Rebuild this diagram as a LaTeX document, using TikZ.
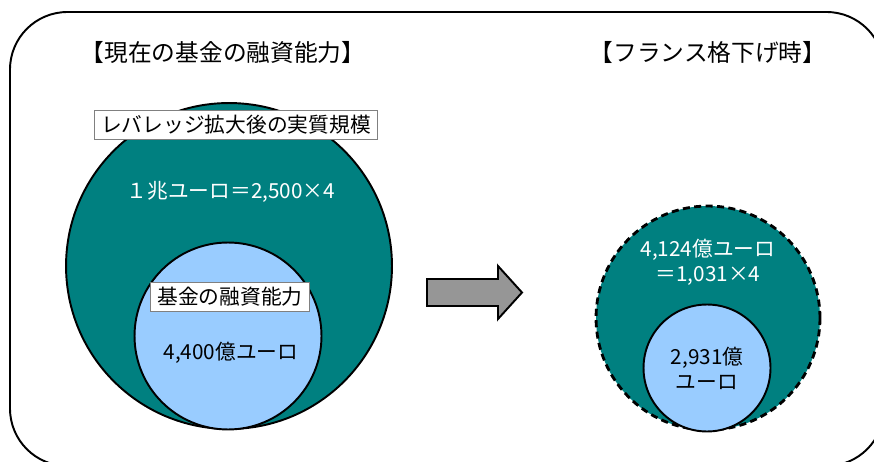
\documentclass[tikz,border=0pt]{standalone}
\usepackage{fontspec}
\setmainfont{Noto Sans CJK JP}
\usetikzlibrary{positioning}
\definecolor{fundteal}{HTML}{008080}
\definecolor{fundblue}{HTML}{99CCFF}
\definecolor{arrowgray}{HTML}{969696}

\begin{document}
\begin{tikzpicture}[x=0.02cm, y=-0.02cm,
    disc/.style={circle, draw, line width=1.1pt, inner sep=0pt},
    outerdisc/.style={disc, fill=fundteal},
    innerdisc/.style={disc, fill=fundblue},
    tagbox/.style={draw=gray, line width=0.8pt, fill=white, inner xsep=4pt, inner ysep=1pt, minimum height=0.58cm, font=\fontsize{11.8}{14}\selectfont},
    heading/.style={font=\fontsize{13.5}{16}\selectfont},
    amount/.style={font=\fontsize{11.8}{14.2}\selectfont, align=center},
    ]
    \useasboundingbox (0,0) rectangle (874,462);

    % outer frame
    \draw[line width=1.1pt, rounded corners=1.15cm] (10,12) rectangle (884,466);

    % titles
    \node[heading] (curtitle) at (223,52) {【現在の基金の融資能力】};
    \node[heading] (dgtitle) at (708,52) {【フランス格下げ時】};

    % current lending capacity (left)
    \node[outerdisc, minimum size=6.52cm] (curtotal) at (229,266) {};
    \node[innerdisc, minimum size=3.74cm] (curfund) at (228,336) {};
    \node[tagbox] (curtag) at (236,125) {レバレッジ拡大後の実質規模};
    \node[amount, text=white] (curtotaltxt) at (231,192) {１兆ユーロ＝2,500×4};
    \node[tagbox] (fundtag) at (230,297) {基金の融資能力};
    \node[amount] (curfundtxt) at (231,353) {4,400億ユーロ};

    % block arrow (center)
    \filldraw[fill=arrowgray, line width=1.1pt] (427,279) -- (498,279) -- (498,266)
        -- (522,292.5) -- (498,319) -- (498,306) -- (427,306) -- cycle;

    % after the downgrade (right)
    \node[outerdisc, dash pattern=on 4pt off 2.5pt, line width=1.6pt, minimum size=4.48cm] (dgtotal) at (708,318) {};
    \node[innerdisc, minimum size=2.54cm] (dgfund) at (707,368) {};
    \node[amount, text=white] (dgtotaltxt) at (708,262.5) {4,124億ユーロ\\＝1,031×4};
    \node[amount] (dgfundtxt) at (707,368.5) {2,931億\\ユーロ};
\end{tikzpicture}
\end{document}
